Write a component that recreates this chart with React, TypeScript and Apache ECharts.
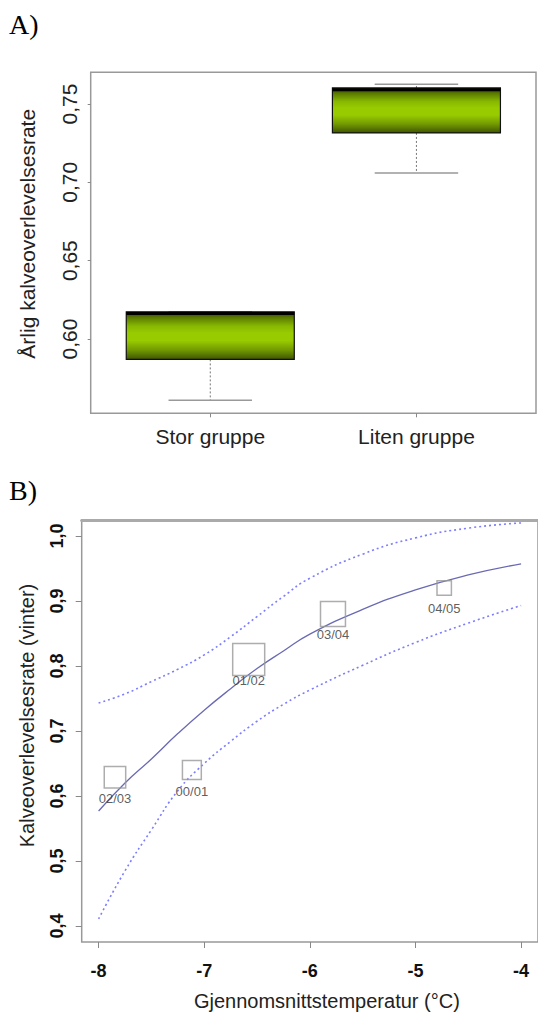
import React, { useEffect, useRef } from 'react';
import * as echarts from 'echarts';

// ---------- Panel A data (boxplot) ----------
const groupCategories = ['Stor gruppe', 'Liten gruppe'];
const groupPositions = [1, 2];
const whiskerLow = [0.561, 0.706];
const quartile1 = [0.587, 0.7315];
const medians = [0.6163, 0.759];
const quartile3 = [0.6174, 0.7602];
const whiskerHigh = [0.6174, 0.7626];
const panelAYTicks = [0.6, 0.65, 0.7, 0.75];

// ---------- Panel B data ----------
const seasons = ['00/01', '01/02', '02/03', '03/04', '04/05'];
const seasonTemp = [-7.117, -6.579, -7.845, -5.781, -4.728];
const seasonSurvival = [0.64, 0.81, 0.629, 0.88, 0.92];
const seasonWeight = [0.59, 1.0, 0.67, 0.78, 0.45];

const curveTemp = [-8, -7.75, -7.5, -7.25, -7, -6.75, -6.5, -6.25, -6, -5.5, -5, -4.5, -4];
const fittedSurvival = [0.577, 0.62, 0.657, 0.696, 0.732, 0.765, 0.796, 0.823, 0.849, 0.887, 0.917, 0.94, 0.957];
const upperCI = [0.743, 0.757, 0.776, 0.795, 0.817, 0.845, 0.876, 0.907, 0.935, 0.972, 0.997, 1.012, 1.02];
const lowerCI = [0.411, 0.485, 0.548, 0.608, 0.65, 0.684, 0.715, 0.741, 0.763, 0.801, 0.836, 0.866, 0.893];
const panelBYTicks = [0.4, 0.5, 0.6, 0.7, 0.8, 0.9, 1.0];
const panelBXTicks = [-8, -7, -6, -5, -4];

const SANS = '"Liberation Sans", Arial, Helvetica, sans-serif';
const SERIF = '"Liberation Serif", "Times New Roman", serif';

export default function App() {
  const ref = useRef<HTMLDivElement>(null);

  useEffect(() => {
    if (!ref.current) return;
    const chart = echarts.init(ref.current, undefined, { renderer: 'svg' });

    const boxGradient = () =>
      new echarts.graphic.LinearGradient(0, 0, 0, 1, [
        { offset: 0, color: '#2b3a00' },
        { offset: 0.12, color: '#5a7a00' },
        { offset: 0.3, color: '#88b800' },
        { offset: 0.45, color: '#99cc00' },
        { offset: 0.6, color: '#99cc00' },
        { offset: 0.8, color: '#739a00' },
        { offset: 1, color: '#3e5500' },
      ]);

    const pair = (xs: number[], ys: number[]) => xs.map((x, i) => [x, ys[i]]);

    const option: any = {
      animation: false,
      backgroundColor: '#ffffff',
      grid: [
        { left: 90.7, top: 72.3, width: 445.3, height: 341, show: true, borderColor: '#999', borderWidth: 1.5, containLabel: false },
        { left: 81.7, top: 520, width: 465.9, height: 423.3, show: true, borderColor: '#999', borderWidth: 1.5, containLabel: false },
      ],
      xAxis: [
        {
          gridIndex: 0,
          type: 'value',
          min: 0.42,
          max: 2.58,
          axisLine: { show: false, onZero: false },
          splitLine: { show: false },
          axisTick: { show: true, customValues: groupPositions, length: 4, lineStyle: { color: '#888' } },
          axisLabel: {
            customValues: groupPositions,
            formatter: (v: number) => groupCategories[groupPositions.indexOf(v)] ?? '',
            fontSize: 21,
            margin: 13,
            color: '#222',
            fontFamily: SANS,
          },
        },
        {
          gridIndex: 1,
          type: 'value',
          min: -8.16,
          max: -3.84,
          axisLine: { show: false, onZero: false },
          splitLine: { show: false },
          axisTick: { show: true, customValues: panelBXTicks, length: 6, lineStyle: { color: '#888' } },
          axisLabel: {
            customValues: panelBXTicks,
            formatter: (v: number) => String(v),
            fontSize: 18,
            fontWeight: 'bold',
            margin: 20,
            color: '#111',
            fontFamily: SANS,
          },
          name: 'Gjennomsnittstemperatur (°C)',
          nameLocation: 'middle',
          nameGap: 49,
          nameTextStyle: { fontSize: 20, color: '#222', fontFamily: SANS, padding: [0, 0, 0, 34] },
        },
        {
          gridIndex: 1,
          type: 'value',
          position: 'top',
          min: -8.16,
          max: -3.84,
          axisLine: { show: true, onZero: false, lineStyle: { color: '#aaa', width: 3 } },
          axisTick: { show: false },
          axisLabel: { show: false },
          splitLine: { show: false },
        },
      ],
      yAxis: [
        {
          gridIndex: 0,
          type: 'value',
          min: 0.5526,
          max: 0.7702,
          axisLine: { show: false, onZero: false },
          splitLine: { show: false },
          axisTick: { show: true, customValues: panelAYTicks, length: 3, lineStyle: { color: '#888' } },
          axisLabel: {
            customValues: panelAYTicks,
            formatter: (v: number) => v.toFixed(2).replace('.', ','),
            rotate: 90,
            fontSize: 21,
            margin: 11,
            color: '#222',
            fontFamily: SANS,
          },
          name: 'Årlig kalveoverlevelsesrate',
          nameLocation: 'middle',
          nameGap: 53,
          nameTextStyle: { fontSize: 21, color: '#222', fontFamily: SANS, padding: [0, 0, 0, 18] },
        },
        {
          gridIndex: 1,
          type: 'value',
          min: 0.3755,
          max: 1.0245,
          axisLine: { show: false, onZero: false },
          splitLine: { show: false },
          axisTick: { show: true, customValues: panelBYTicks, length: 6, lineStyle: { color: '#888' } },
          axisLabel: {
            customValues: panelBYTicks,
            formatter: (v: number) => v.toFixed(1).replace('.', ','),
            rotate: 90,
            fontSize: 18,
            fontWeight: 'bold',
            margin: 16,
            color: '#111',
            fontFamily: SANS,
          },
          name: 'Kalveoverlevelsesrate (vinter)',
          nameLocation: 'middle',
          nameGap: 45,
          nameTextStyle: { fontSize: 20, color: '#222', fontFamily: SANS, padding: [0, 0, 0, 31] },
        },
      ],
      graphic: [
        { type: 'text', left: 9, top: 10, style: { text: 'A)', font: `28px ${SERIF}`, fill: '#000' } },
        { type: 'text', left: 9, top: 476, style: { text: 'B)', font: `28px ${SERIF}`, fill: '#000' } },
      ],
      series: [
        {
          type: 'custom',
          xAxisIndex: 0,
          yAxisIndex: 0,
          data: groupPositions.map((p, i) => [p, whiskerLow[i], quartile1[i], medians[i], quartile3[i], whiskerHigh[i]]),
          encode: { x: 0, y: [1, 2, 3, 4, 5] },
          renderItem: (params: any, api: any) => {
            const x = api.value(0);
            const [cx, yLo] = api.coord([x, api.value(1)]);
            const yQ1 = api.coord([x, api.value(2)])[1];
            const yMed = api.coord([x, api.value(3)])[1];
            const yQ3 = api.coord([x, api.value(4)])[1];
            const yHi = api.coord([x, api.value(5)])[1];
            const bw = api.size([0.815, 0])[0];
            const cw = api.size([0.405, 0])[0];
            const dashStyle = { stroke: '#777', lineWidth: 1, lineDash: [2, 2], fill: null };
            const capStyle = { stroke: '#999', lineWidth: 1.5, fill: null };
            return {
              type: 'group',
              children: [
                { type: 'line', shape: { x1: cx, y1: yQ1, x2: cx, y2: yLo }, style: dashStyle },
                { type: 'line', shape: { x1: cx, y1: yQ3, x2: cx, y2: yHi }, style: dashStyle },
                { type: 'line', shape: { x1: cx - cw / 2, y1: yLo, x2: cx + cw / 2, y2: yLo }, style: capStyle },
                { type: 'line', shape: { x1: cx - cw / 2, y1: yHi, x2: cx + cw / 2, y2: yHi }, style: capStyle },
                {
                  type: 'rect',
                  shape: { x: cx - bw / 2, y: yQ3, width: bw, height: yQ1 - yQ3 },
                  style: { fill: boxGradient(), stroke: '#111', lineWidth: 1.2 },
                },
                { type: 'line', shape: { x1: cx - bw / 2, y1: yMed, x2: cx + bw / 2, y2: yMed }, style: { stroke: '#000', lineWidth: 3 } },
              ],
            };
          },
        },
        {
          type: 'line',
          name: 'upper',
          xAxisIndex: 1,
          yAxisIndex: 1,
          data: pair(curveTemp, upperCI),
          smooth: true,
          showSymbol: false,
          lineStyle: { color: '#7d7dff', width: 1.6, type: [2, 3] },
        },
        {
          type: 'line',
          name: 'lower',
          xAxisIndex: 1,
          yAxisIndex: 1,
          data: pair(curveTemp, lowerCI),
          smooth: true,
          showSymbol: false,
          lineStyle: { color: '#7d7dff', width: 1.6, type: [2, 3] },
        },
        {
          type: 'line',
          name: 'fit',
          xAxisIndex: 1,
          yAxisIndex: 1,
          data: pair(curveTemp, fittedSurvival),
          smooth: true,
          showSymbol: false,
          lineStyle: { color: '#6a6ab4', width: 1.3 },
        },
        {
          type: 'scatter',
          xAxisIndex: 1,
          yAxisIndex: 1,
          z: 5,
          data: seasonTemp.map((t, i) => [t, seasonSurvival[i], seasonWeight[i]]),
          symbol: 'rect',
          symbolSize: (v: number[]) => v[2] * 32,
          itemStyle: { color: 'rgba(0,0,0,0)', borderColor: '#999', borderWidth: 1.5 },
          label: {
            show: true,
            formatter: (p: any) => seasons[p.dataIndex],
            position: 'inside',
            offset: [0, 21],
            fontSize: 13,
            color: '#333',
            fontFamily: SANS,
          },
        },
      ],
    };

    chart.setOption(option);
    return () => chart.dispose();
  }, []);

  return (
    <div
      ref={ref}
      style={{ position: 'absolute', left: 0, top: 0, width: 538, height: 1012, background: '#fff' }}
    />
  );
}
